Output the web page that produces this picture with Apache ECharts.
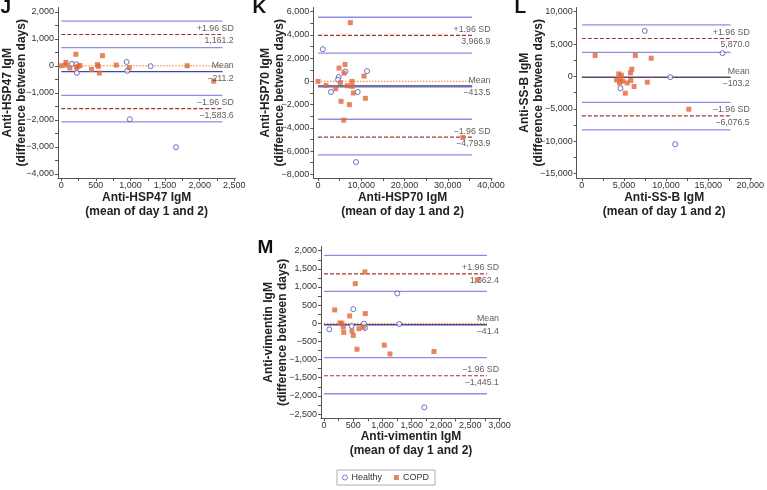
<!DOCTYPE html>
<html><head><meta charset="utf-8">
<script src="https://cdn.jsdelivr.net/npm/echarts@6/dist/echarts.min.js"></script>
<style>html,body{margin:0;padding:0;background:#fff}#c{width:767px;height:490px}</style>
</head><body><div id="c"></div>
<script>
// ---------- DATA ----------
const panelLetters = ['J', 'K', 'L', 'M'];
const analytes = ['Anti-HSP47 IgM', 'Anti-HSP70 IgM', 'Anti-SS-B IgM', 'Anti-vimentin IgM'];

const jHealthy = [[154,75],[221,60],[225,-258],[944,145],[954,-180],[991,-1975],[1291,-10],[1658,-3010]];
const jCOPD = [[0,5],[67,125],[67,30],[125,-80],[211,430],[221,-70],[240,-20],[269,15],[437,-133],[523,45],[535,-20],[551,-265],[595,378],[796,30],[982,-65],[1820,5],[2202,-565]];

const kHealthy = [[1100,2770],[6330,857],[11340,886],[4780,371],[4630,143],[3010,-914],[9180,-914],[8800,-6943]];
const kCOPD = [[7480,5057],[6250,1457],[4860,1143],[6020,714],[5170,-114],[0,0],[7870,0],[10650,457],[1850,-343],[6790,-371],[7870,-429],[4090,-629],[8180,-1000],[10960,-1457],[5320,-1714],[7250,-2000],[5940,-3343],[33490,-4830]];

const lHealthy = [[7470,7037],[16710,3596],[4584,-1805],[10508,-108],[11085,-10448]];
const lCOPD = [[1580,3241],[6351,3241],[8233,2824],[5924,1127],[5774,556],[4388,401],[4700,200],[4122,-525],[4469,-988],[4850,-725],[5808,-617],[5393,-988],[4584,-370],[7771,-880],[6201,-1543],[5162,-2577],[12702,-5046]];

const mHealthy = [[1253,823],[501,389],[684,-11],[1287,-19],[473,-75],[701,-131],[91,-167],[1715,-2316]];
const mCOPD = [[700,1416],[2620,1200],[535,1092],[183,369],[706,267],[439,203],[274,8],[308,0],[330,-103],[672,-103],[598,-150],[337,-250],[479,-214],[501,-333],[564,-714],[1031,-603],[1128,-844],[1880,-778]];

const meanDiff = [-211.2, -413.5, -103.2, -41.4];
const upperLoA = [1161.2, 3966.9, 5870.0, 1362.4];
const lowerLoA = [-1583.6, -4793.9, -6076.5, -1445.1];
const upperLoACI = [[1655, 675], [5520, 2430], [7970, 3740], [1870, 880]];
const lowerLoACI = [[-1092, -2074], [-3260, -6320], [-3990, -8240], [-948, -1942]];
const lineEnd = [2330, 35650, 17670, 2785];

const xTicks = [
  [0, 500, 1000, 1500, 2000, 2500],
  [0, 10000, 20000, 30000, 40000],
  [0, 5000, 10000, 15000, 20000],
  [0, 500, 1000, 1500, 2000, 2500, 3000]
];
const yTicks = [
  [-4000, -3000, -2000, -1000, 0, 1000, 2000],
  [-8000, -6000, -4000, -2000, 0, 2000, 4000, 6000],
  [-15000, -10000, -5000, 0, 5000, 10000],
  [-2500, -2000, -1500, -1000, -500, 0, 500, 1000, 1500, 2000]
];
const groups = [[jHealthy, jCOPD], [kHealthy, kCOPD], [lHealthy, lCOPD], [mHealthy, mCOPD]];

// ---------- LAYOUT ----------
const layout = [
  {left: 57, top: 7.5, width: 178.3, height: 170.5, xMin: -47, xMax: 2515, yMin: -4148, yMax: 2160, yGap: 29, xGap: 13, lx: 0.5, ly: 8, meanW: 1.4, meanC: '#44489c'},
  {left: 313.3, top: 7.5, width: 178.5, height: 170.5, xMin: -1087, xMax: 40185, yMin: -8317, yMax: 6360, yGap: 27, xGap: 13, lx: 252.5, ly: 8.5, meanW: 2.4, meanC: '#6f72ad'},
  {left: 576.7, top: 7.5, width: 180, height: 170.5, xMin: -612, xMax: 20173, yMin: -15660, yMax: 10650, yGap: 31, xGap: 13, lx: 514.5, ly: 8, meanW: 1.4, meanC: '#44489c'},
  {left: 321, top: 246.5, width: 180, height: 171.8, xMin: -51, xMax: 3026, yMin: -2618, yMax: 2116, yGap: 31, xGap: 11.5, lx: 257.5, ly: 248.5, meanW: 1.4, meanC: '#44489c'}
];

const FONT = '"Liberation Sans", Arial, Helvetica, sans-serif';
const MINUS = '\u2212';
function fmt(v, d) {
  const s = Math.abs(v).toLocaleString('en-US', {minimumFractionDigits: d, maximumFractionDigits: d});
  return (v < 0 ? MINUS : '') + s;
}
function withMinors(t) {
  const out = t.slice();
  for (let i = 0; i < t.length - 1; i++) out.push((t[i] + t[i + 1]) / 2);
  return out.sort((a, b) => a - b);
}

const grids = [], xAxes = [], yAxes = [], series = [], graphics = [];
const axisColor = '#555';
const ciColor = '#8d8de6';
const loaColor = '#a83430';
const zeroColor = '#f29548';

layout.forEach((L, i) => {
  grids.push({left: L.left, top: L.top, width: L.width, height: L.height, containLabel: false});
  xAxes.push({
    gridIndex: i, type: 'value', min: L.xMin, max: L.xMax,
    axisLine: {show: true, onZero: false, lineStyle: {color: axisColor, width: 1}},
    axisTick: {show: true, length: 3, customValues: withMinors(xTicks[i]), lineStyle: {color: axisColor}},
    axisLabel: {customValues: xTicks[i], formatter: v => fmt(v, 0), fontSize: 9, color: '#333', margin: 3, fontFamily: FONT},
    splitLine: {show: false},
    name: analytes[i] + '\n(mean of day 1 and 2)', nameLocation: 'middle', nameGap: L.xGap,
    nameMoveOverlap: false,
    nameTextStyle: {fontSize: 12, fontWeight: 'bold', color: '#222', lineHeight: 14, fontFamily: FONT}
  });
  yAxes.push({
    gridIndex: i, type: 'value', min: L.yMin, max: L.yMax,
    axisLine: {show: true, onZero: false, lineStyle: {color: axisColor, width: 1}},
    axisTick: {show: true, length: 3, customValues: withMinors(yTicks[i]), lineStyle: {color: axisColor}},
    axisLabel: {customValues: yTicks[i], formatter: v => fmt(v, 0), fontSize: 9, color: '#333', margin: 4, fontFamily: FONT},
    splitLine: {show: false},
    name: analytes[i] + '\n(difference between days)', nameLocation: 'middle', nameGap: L.yGap,
    nameMoveOverlap: false,
    nameTextStyle: {fontSize: 12, fontWeight: 'bold', color: '#222', lineHeight: 14, fontFamily: FONT}
  });

  const hline = (v, color, width, type, z) => ({
    type: 'line', xAxisIndex: i, yAxisIndex: i, data: [[0, v], [lineEnd[i], v]],
    symbol: 'none', silent: true, z: z || 2, animation: false,
    lineStyle: {color: color, width: width, type: type}
  });
  upperLoACI[i].concat(lowerLoACI[i]).forEach(v => series.push(hline(v, ciColor, 1.3, 'solid')));
  series.push(hline(upperLoA[i], loaColor, 1.2, [4, 2]));
  series.push(hline(lowerLoA[i], loaColor, 1.2, [4, 2]));
  series.push(hline(meanDiff[i], L.meanC, L.meanW, 'solid'));
  series.push(hline(0, zeroColor, 1.2, [1.5, 1.5], 3));

  series.push({
    name: 'Healthy', type: 'scatter', xAxisIndex: i, yAxisIndex: i, data: groups[i][0],
    symbol: 'circle', symbolSize: 5, z: 5, animation: false,
    itemStyle: {color: '#fff', borderColor: '#4b50b4', borderWidth: 1}
  });
  series.push({
    name: 'COPD', type: 'scatter', xAxisIndex: i, yAxisIndex: i, data: groups[i][1],
    symbol: 'rect', symbolSize: 5, z: 5, animation: false,
    itemStyle: {color: '#e0673a'}
  });

  const lx = xTicks[i][xTicks[i].length - 1];
  const lab = (v, text, dy) => ({value: [lx, v], label: {formatter: text, offset: [0, dy]}});
  series.push({
    type: 'scatter', xAxisIndex: i, yAxisIndex: i, symbolSize: 1, silent: true, z: 6, animation: false,
    itemStyle: {color: 'transparent'},
    label: {show: true, position: 'left', distance: 0, fontSize: 8.8, color: '#333', fontFamily: FONT},
    data: [
      lab(upperLoA[i], '+1.96 SD', -6), lab(upperLoA[i], fmt(upperLoA[i], 1), 6.5),
      lab(meanDiff[i], 'Mean', -6), lab(meanDiff[i], fmt(meanDiff[i], 1), 6.5),
      lab(lowerLoA[i], MINUS + '1.96 SD', -6), lab(lowerLoA[i], fmt(lowerLoA[i], 1), 6.5)
    ]
  });

  graphics.push({type: 'text', left: L.lx, top: L.ly - 10, style: {text: panelLetters[i], font: 'bold 19px ' + FONT, fill: '#111'}});
});

const chart = echarts.init(document.getElementById('c'), null, {renderer: 'canvas'});
chart.setOption({
  animation: false,
  backgroundColor: '#fff',
  grid: grids, xAxis: xAxes, yAxis: yAxes, series: series, graphic: graphics,
  legend: {
    data: [
      {name: 'Healthy', itemStyle: {color: '#fff', borderColor: '#4b50b4', borderWidth: 0.9}},
      {name: 'COPD', itemStyle: {color: '#e0673a', borderWidth: 0}}
    ],
    left: 337, top: 470, orient: 'horizontal',
    itemWidth: 5, itemHeight: 5, itemGap: 12, padding: [3, 6, 3, 5],
    borderColor: '#999', borderWidth: 0.8,
    textStyle: {fontSize: 9, color: '#333', fontFamily: FONT, padding: [0, 0, 0, -1]}
  }
});
</script></body></html>
